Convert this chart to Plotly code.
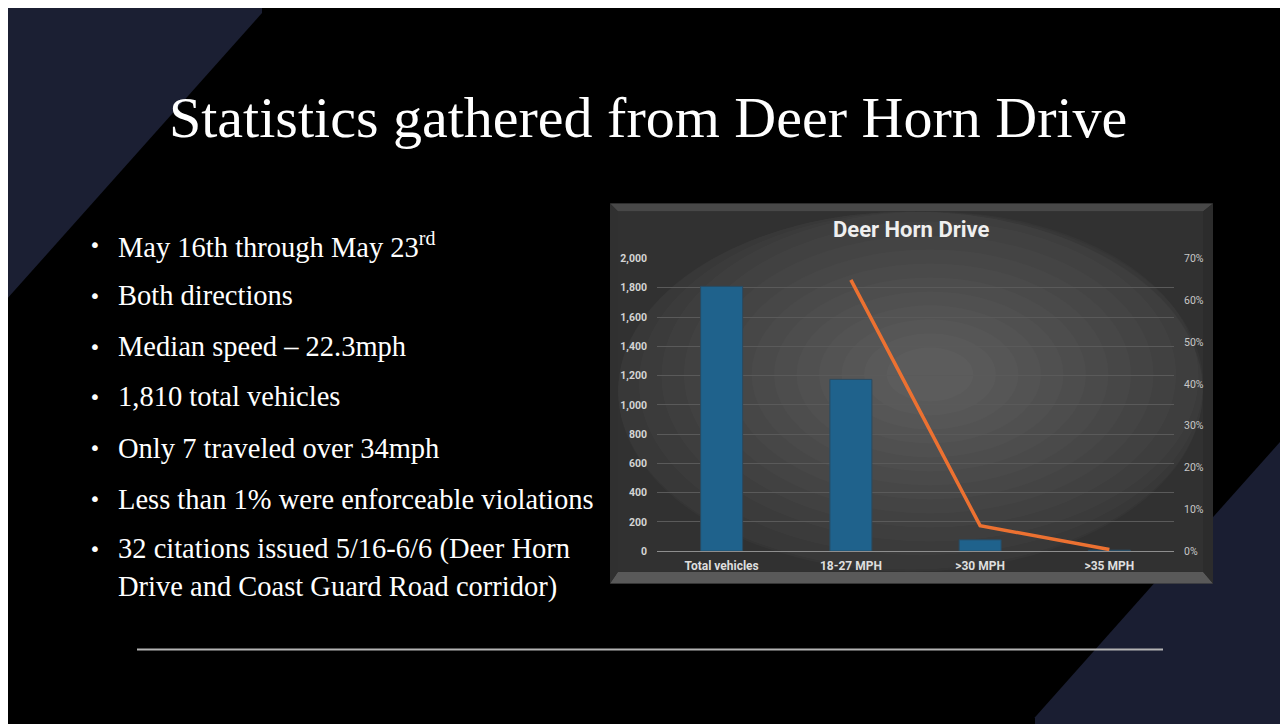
import plotly.graph_objects as go

# ---- data ----
categories = ["Total vehicles", "18-27 MPH", ">30 MPH", ">35 MPH"]
vehicle_counts = [1810, 1174, 78, 7]
share_pct = [None, 0.649, 0.061, 0.004]
left_ticks = [0, 200, 400, 600, 800, 1000, 1200, 1400, 1600, 1800, 2000]
right_ticks = [0, 0.1, 0.2, 0.3, 0.4, 0.5, 0.6, 0.7]

chart_title = "Deer Horn Drive"
slide_title = "Statistics gathered from Deer Horn Drive"
bullets = [
    "May 16th through May 23<sup>rd</sup>",
    "Both directions",
    "Median speed – 22.3mph",
    "1,810 total vehicles",
    "Only 7 traveled over 34mph",
    "Less than 1% were enforceable violations",
    "32 citations issued 5/16-6/6 (Deer Horn",
]
bullet_cont = "Drive and Coast Guard Road corridor)"

W, H = 1288, 724
OX, OY = 8, 8  # page offset of the figure (body margin)
PL, PR, PT, PB = 657, 1174, 257, 555  # plot area in page pixels


def px(x):
    return (x - OX) / W


def py(y):
    return 1 - (y - OY) / H


shapes = []


def rect(x0, y0, x1, y1, color, opacity=1.0, layer="below"):
    shapes.append(dict(type="rect", xref="paper", yref="paper",
                       x0=px(x0), x1=px(x1), y0=py(y1), y1=py(y0),
                       fillcolor=color, line=dict(width=0), opacity=opacity, layer=layer))


def poly(points, color, layer="below"):
    path = "M " + " L ".join(f"{px(x)},{py(y)}" for x, y in points) + " Z"
    shapes.append(dict(type="path", xref="paper", yref="paper", path=path,
                       fillcolor=color, line=dict(width=0), layer=layer))


# slide decorations
poly([(0, 0), (262, 0), (262, 7), (8, 297), (0, 297)], "#1b1f33")
poly([(1285, 438), (1285, 740), (1035, 740), (1035, 724)], "#1a1e32")
rect(1285, 0, 1300, 740, "#000000")
# chart frame (bevel)
rect(610, 201, 1213, 588, "#262626")
poly([(610, 201), (1213, 201), (1203, 209), (618, 209)], "#484848")
poly([(610, 588), (1213, 588), (1203, 576), (618, 576)], "#595959")
poly([(610, 201), (618, 209), (618, 576), (610, 588)], "#303030")
poly([(1213, 201), (1203, 209), (1203, 576), (1213, 588)], "#2c2c2c")
rect(618, 209, 1203, 576, "#313131")
# soft radial gradient approximation
cx, cy = 930, 375
n = 14
for i in range(n):
    f = 1.12 - i * 0.075
    rx, ry = 300 * f, 190 * f
    x0, x1 = max(cx - rx, 618), min(cx + rx, 1203)
    y0, y1 = max(cy - ry, 209), min(cy + ry, 576)
    shapes.append(dict(type="circle", xref="paper", yref="paper",
                       x0=px(x0), x1=px(x1), y0=py(y1), y1=py(y0),
                       fillcolor="#ffffff", opacity=0.02, line=dict(width=0), layer="below"))
# divider line
shapes.append(dict(type="line", xref="paper", yref="paper", x0=px(137), x1=px(1163),
                   y0=py(655), y1=py(655), line=dict(color="#b4b4b4", width=2), layer="above"))

fig = go.Figure()
fig.add_trace(go.Bar(
    x=categories, y=vehicle_counts, yaxis="y",
    marker=dict(color="#1f628c", line=dict(color="#2a4a60", width=1)),
    hoverinfo="x+y", showlegend=False,
))
fig.add_trace(go.Scatter(
    x=categories, y=share_pct, yaxis="y2", mode="lines",
    line=dict(color="#ec7131", width=3.5), connectgaps=False, showlegend=False,
))

serif = "Liberation Serif"
annotations = [
    dict(text=chart_title, xref="paper", yref="paper", x=px(911), y=py(227),
         xanchor="center", yanchor="middle", showarrow=False,
         font=dict(family="Roboto", size=22, color="#efefef", weight="bold")),
    dict(text=slide_title, xref="paper", yref="paper", x=px(648), y=py(113),
         xanchor="center", yanchor="middle", showarrow=False,
         font=dict(family=serif, size=58, color="#ffffff")),
]
line_y = [243, 295, 347, 398, 450, 502, 553]
for t, yy in zip(bullets, line_y):
    annotations.append(dict(text="•", xref="paper", yref="paper", x=px(95), y=py(yy),
                            xanchor="center", yanchor="middle", showarrow=False,
                            font=dict(family="DejaVu Sans", size=20, color="#ffffff")))
    annotations.append(dict(text=t, xref="paper", yref="paper", x=px(116), y=py(yy),
                            xanchor="left", yanchor="middle", showarrow=False,
                            font=dict(family=serif, size=28.5, color="#ffffff")))
annotations.append(dict(text=bullet_cont, xref="paper", yref="paper", x=px(116), y=py(591),
                        xanchor="left", yanchor="middle", showarrow=False,
                        font=dict(family=serif, size=28.5, color="#ffffff")))

fig.update_layout(
    width=W, height=H, autosize=False,
    margin=dict(l=0, r=0, t=0, b=0),
    paper_bgcolor="#000000", plot_bgcolor="rgba(0,0,0,0)",
    bargap=0.675,
    shapes=shapes, annotations=annotations,
    xaxis=dict(domain=[px(PL), px(PR)], showgrid=False, showline=True,
               linecolor="#8e8e8e", linewidth=1.3, ticks="",
               tickfont=dict(family="Roboto", size=12, color="#dedede", weight="bold"),
               ticklabelstandoff=3, fixedrange=True),
    yaxis=dict(domain=[py(PB), py(PT)], range=[0, 2000], tickvals=left_ticks,
               tickformat=",", showgrid=True, gridcolor="#5a5a5a", gridwidth=1,
               zeroline=False, ticks="", ticklabelstandoff=9,
               tickfont=dict(family="Roboto", size=10.5, color="#d4d4d4", weight="bold")),
    yaxis2=dict(overlaying="y", side="right", range=[0, 0.7], tickvals=right_ticks,
                tickformat=".0%", showgrid=False, zeroline=False, ticks="",
                ticklabelstandoff=9,
                tickfont=dict(family="Roboto", size=10.5, color="#c8c8c8")),
)

fig.write_html("out.html")
